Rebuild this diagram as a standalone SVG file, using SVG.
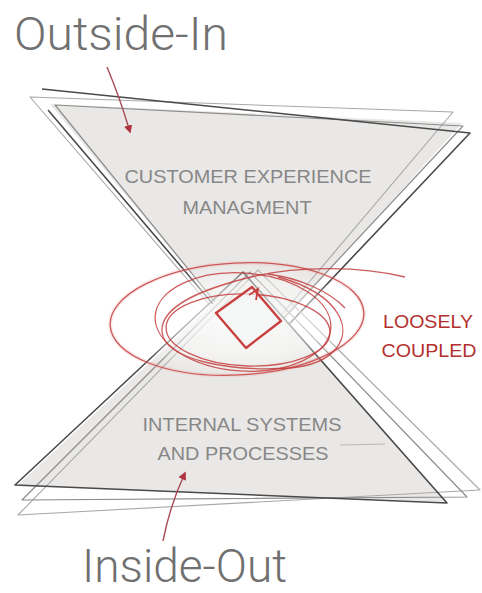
<svg xmlns="http://www.w3.org/2000/svg" width="482" height="593" viewBox="0 0 482 593">
  <style>
    .title { font-family: "Roboto Light", Roboto, "Liberation Sans", sans-serif; font-weight: 300; font-size: 47px; fill: #707070; }
    .lbl { font-family: "Liberation Sans", Arial, sans-serif; font-size: 18px; fill: #878787; }
    .red { font-family: "Liberation Sans", Arial, sans-serif; font-size: 18px; fill: #b3302f; }
    .dark { fill: none; stroke: #4a4a4a; stroke-width: 1.6; stroke-linejoin: round; }
    .mid { fill: none; stroke: #8c8c8c; stroke-width: 1.2; stroke-linejoin: round; }
    .light { fill: none; stroke: #a8a8a8; stroke-width: 1.1; stroke-linejoin: round; }
    .loop { fill: none; stroke: #c4403f; stroke-width: 1.3; opacity: 0.85; }
    .halo { fill: none; stroke: #f0a8a8; stroke-width: 4; opacity: 0.25; }
    .arrow { fill: none; stroke: #a84a55; stroke-width: 1.4; }
  </style>
  <defs>
    <marker id="ah" viewBox="0 0 10 10" refX="8" refY="5" markerWidth="6" markerHeight="6" orient="auto">
      <path d="M0,0 L10,5 L0,10 z" fill="#b0343f"/>
    </marker>
    <radialGradient id="glow" cx="0.5" cy="0.5" r="0.5">
      <stop offset="0" stop-color="#ffffff" stop-opacity="0.85"/>
      <stop offset="0.7" stop-color="#ffffff" stop-opacity="0.45"/>
      <stop offset="1" stop-color="#ffffff" stop-opacity="0"/>
    </radialGradient>
  </defs>
  <rect width="482" height="593" fill="#ffffff"/>

  <g id="top-funnel">
    <polygon points="50,104 462,123 256,352" fill="#e9e8e6"/>
    <polygon class="light" points="30,97 453,112 250,352"/>
    <polygon class="mid" points="55,105 463,126 254,350"/>
    <path class="dark" d="M42,89 L470,133 L258,357 L48,110"/>
    <text class="lbl" x="248" y="183" text-anchor="middle" textLength="247" lengthAdjust="spacingAndGlyphs">CUSTOMER EXPERIENCE</text>
    <text class="lbl" x="247" y="214" text-anchor="middle" textLength="129" lengthAdjust="spacingAndGlyphs">MANAGMENT</text>
  </g>

  <g id="bottom-funnel">
    <polygon points="17,486 447,502 245,274" fill="#e9e8e6"/>
    <polygon class="light" points="18,515 480,490 258,270"/>
    <polygon class="mid" points="22,500 467,497 250,272"/>
    <polygon class="dark" points="15,485 447,503 243,272"/>
    <line x1="340" y1="445" x2="385" y2="444" stroke="#b8b8b8" stroke-width="1"/>
    <text class="lbl" x="242" y="431" text-anchor="middle" textLength="199" lengthAdjust="spacingAndGlyphs">INTERNAL SYSTEMS</text>
    <text class="lbl" x="243" y="460" text-anchor="middle" textLength="171" lengthAdjust="spacingAndGlyphs">AND PROCESSES</text>
  </g>

  <g id="loosely-coupled">
    <ellipse cx="240" cy="320" rx="125" ry="55" fill="url(#glow)"/>
    <ellipse class="halo" cx="237" cy="319" rx="127" ry="56" transform="rotate(-3 237 319)"/>
    <ellipse class="loop" cx="237" cy="319" rx="127" ry="56" transform="rotate(-3 237 319)"/>
    <ellipse class="loop" cx="243" cy="322" rx="88" ry="49" transform="rotate(4 243 322)"/>
    <ellipse class="loop" cx="248" cy="330" rx="82" ry="36" transform="rotate(2 248 330)"/>
    <path class="loop" d="M405,277 C360,266 300,266 255,276 C205,288 160,305 162,332 C165,360 230,372 290,368 C335,364 352,338 338,314 C326,294 300,283 278,277"/>
    <path class="loop" d="M268,274 C300,278 330,292 345,308"/>
    <polygon points="252,287 281,321 246,348 216,313" fill="#f4f6f7" fill-opacity="0.7" stroke="#c8403f" stroke-width="2.4" stroke-linejoin="round"/>
    <path d="M249,295 L258,289 L256,300" fill="none" stroke="#c8403f" stroke-width="1.8"/>
    <text class="red" x="428" y="328" text-anchor="middle" textLength="90" lengthAdjust="spacingAndGlyphs">LOOSELY</text>
    <text class="red" x="429" y="357" text-anchor="middle" textLength="95" lengthAdjust="spacingAndGlyphs">COUPLED</text>
  </g>

  <g id="outside-in">
    <text class="title" x="14" y="50" textLength="214" lengthAdjust="spacingAndGlyphs">Outside-In</text>
  </g>

  <g id="inside-out">
    <text class="title" x="82" y="582" textLength="205" lengthAdjust="spacingAndGlyphs">Inside-Out</text>
  </g>

  <g id="connectors">
    <path class="arrow" d="M107,67 Q120,98 130,132" marker-end="url(#ah)"/>
    <path class="arrow" d="M163,541 Q170,505 185,473" marker-end="url(#ah)"/>
  </g>
</svg>
